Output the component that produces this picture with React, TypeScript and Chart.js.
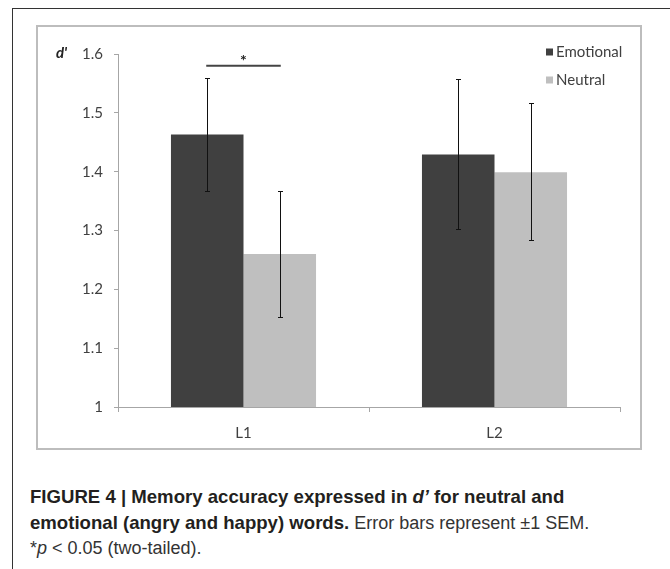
import React, { useEffect, useRef } from 'react';
import { Chart, registerables } from 'chart.js';

Chart.register(...registerables);

// ---- data ----
const categories = ['L1', 'L2'];
const seriesNames = ['Emotional', 'Neutral'];
const emotionalMeans = [1.463, 1.429];
const neutralMeans = [1.26, 1.399];
const emotionalLow = [1.367, 1.303];
const emotionalHigh = [1.56, 1.557];
const neutralLow = [1.153, 1.284];
const neutralHigh = [1.367, 1.516];
const yTicks = [1, 1.1, 1.2, 1.3, 1.4, 1.5, 1.6];
const yMin = 1;
const yMax = 1.6;
const yAxisLabel = "d'";
const sigCategoryIndex = 0;
const sigLineLevel = 1.58;
const sigStarLevel = 1.594;
const sigLabel = '*';

// ---- styles ----
const seriesColors = ['#404040', '#bfbfbf'];
const textColor = '#404040';
const axisColor = '#a6a6a6';
const chartFont = 'Lato, "Open Sans", sans-serif';

const overlayPlugin = {
  id: 'overlay',
  afterDatasetsDraw(chart: any) {
    const ctx = chart.ctx;
    const ys = chart.scales.y;
    const lows = [emotionalLow, neutralLow];
    const highs = [emotionalHigh, neutralHigh];
    ctx.save();
    // error bars
    ctx.strokeStyle = '#111111';
    ctx.lineWidth = 1;
    for (let d = 0; d < 2; d++) {
      const meta = chart.getDatasetMeta(d);
      meta.data.forEach((bar: any, j: number) => {
        const x = Math.round(bar.x) + 0.5;
        const yl = Math.round(ys.getPixelForValue(lows[d][j])) + 0.5;
        const yh = Math.round(ys.getPixelForValue(highs[d][j])) + 0.5;
        ctx.beginPath();
        ctx.moveTo(x, yh);
        ctx.lineTo(x, yl);
        ctx.moveTo(x - 2.5, yh);
        ctx.lineTo(x + 2.5, yh);
        ctx.moveTo(x - 2.5, yl);
        ctx.lineTo(x + 2.5, yl);
        ctx.stroke();
      });
    }
    // significance marker
    const b0 = chart.getDatasetMeta(0).data[sigCategoryIndex];
    const b1 = chart.getDatasetMeta(1).data[sigCategoryIndex];
    const sy = ys.getPixelForValue(sigLineLevel);
    ctx.strokeStyle = '#444444';
    ctx.lineWidth = 2;
    ctx.beginPath();
    ctx.moveTo(b0.x - 1, sy);
    ctx.lineTo(b1.x + 1, sy);
    ctx.stroke();
    ctx.fillStyle = '#222222';
    ctx.font = 'bold 16px ' + chartFont;
    ctx.textAlign = 'center';
    ctx.textBaseline = 'middle';
    ctx.fillText(sigLabel, (b0.x + b1.x) / 2, ys.getPixelForValue(sigStarLevel) + 3);

    // legend
    ctx.font = '15px ' + chartFont;
    ctx.textAlign = 'left';
    ctx.textBaseline = 'middle';
    const legendX = 509;
    const legendY = [26, 54];
    seriesNames.forEach((name, i) => {
      ctx.fillStyle = seriesColors[i];
      ctx.fillRect(legendX, legendY[i] - 3.5, 7, 7);
      ctx.fillStyle = textColor;
      ctx.fillText(name, legendX + 10, legendY[i]);
    });

    // y axis label
    ctx.font = 'italic bold 15px ' + chartFont;
    ctx.fillStyle = '#222222';
    ctx.fillText(yAxisLabel, 19, 27);
    ctx.restore();
  },
};

export default function App() {
  const canvasRef = useRef<HTMLCanvasElement | null>(null);

  useEffect(() => {
    if (!canvasRef.current) return;
    const chart = new Chart(canvasRef.current, {
      type: 'bar',
      data: {
        labels: categories,
        datasets: [
          { label: seriesNames[0], data: emotionalMeans, backgroundColor: seriesColors[0] },
          { label: seriesNames[1], data: neutralMeans, backgroundColor: seriesColors[1] },
        ],
      },
      options: {
        animation: false,
        responsive: false,
        maintainAspectRatio: false,
        layout: { padding: { left: 0, right: 21, top: 28, bottom: 0 } },
        datasets: { bar: { categoryPercentage: 0.578, barPercentage: 1.0 } },
        plugins: { legend: { display: false }, tooltip: { enabled: false } },
        scales: {
          x: {
            grid: { offset: true, drawOnChartArea: false, tickLength: 5, color: axisColor },
            border: { color: axisColor, width: 1 },
            ticks: { color: textColor, font: { family: chartFont, size: 15 }, padding: 12 },
            afterFit(scale: any) {
              scale.height = 42;
            },
          },
          y: {
            min: yMin,
            max: yMax,
            grid: { drawOnChartArea: false, tickLength: 4, color: axisColor },
            border: { color: axisColor, width: 1 },
            ticks: {
              color: textColor,
              font: { family: chartFont, size: 15 },
              padding: 11,
              callback: (v: any) => (Number(v) === 1 ? '1' : Number(v).toFixed(1)),
            },
            afterBuildTicks(scale: any) {
              scale.ticks = yTicks.map((v) => ({ value: v }));
            },
            afterFit(scale: any) {
              scale.width = 81;
            },
          },
        },
      },
      plugins: [overlayPlugin],
    } as any);
    return () => chart.destroy();
  }, []);

  const captionStyle: React.CSSProperties = {
    position: 'absolute',
    left: 30,
    top: 484,
    width: 630,
    fontFamily: '"Liberation Sans", Arial, sans-serif',
    fontSize: 18,
    lineHeight: '25px',
    color: '#333333',
    whiteSpace: 'nowrap',
  };
  const bold: React.CSSProperties = { fontWeight: 'bold', color: '#231f20', fontSize: 18.6 };

  return (
    <div style={{ position: 'absolute', left: 0, top: 0, width: 670, height: 569, overflow: 'hidden', background: '#fff' }}>
      <div style={{ position: 'absolute', left: 12, top: 8, width: 670, height: 1, background: '#333' }} />
      <div style={{ position: 'absolute', left: 12, top: 8, width: 1, height: 600, background: '#333' }} />
      <canvas
        ref={canvasRef}
        width={604}
        height={423}
        style={{ position: 'absolute', left: 37, top: 26, width: 604, height: 423 }}
      />
      <div
        style={{
          position: 'absolute',
          left: 36,
          top: 25,
          width: 606,
          height: 425,
          boxSizing: 'border-box',
          border: '2px solid #bdbdbd',
          pointerEvents: 'none',
        }}
      />
      <div style={captionStyle}>
        <div>
          <span style={bold}>FIGURE 4 | Memory accuracy expressed in </span>
          <span style={{ ...bold, fontStyle: 'italic' }}>d&#8217;</span>
          <span style={bold}> for neutral and</span>
        </div>
        <div>
          <span style={bold}>emotional (angry and happy) words.</span> Error bars represent ±1 SEM.
        </div>
        <div>
          *<span style={{ fontStyle: 'italic' }}>p</span> &lt; 0.05 (two-tailed).
        </div>
      </div>
    </div>
  );
}
